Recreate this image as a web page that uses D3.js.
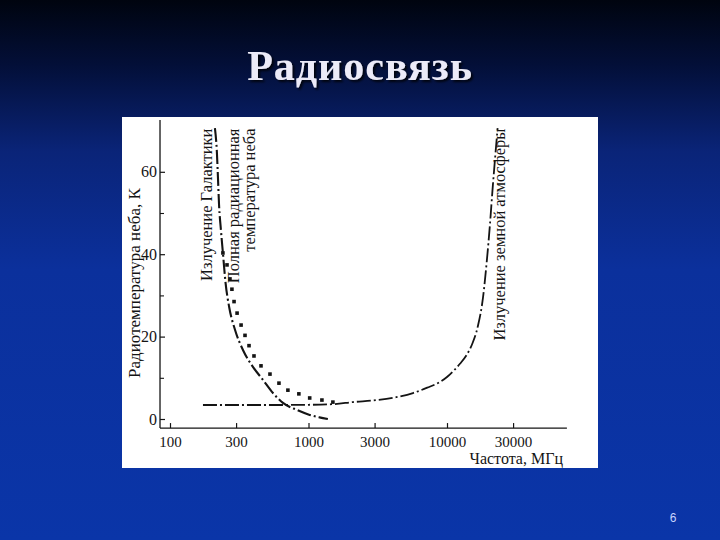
<!DOCTYPE html>
<html>
<head>
<meta charset="utf-8">
<script src="https://cdn.jsdelivr.net/npm/d3@7/dist/d3.min.js"></script>
<style>
  html, body { margin: 0; padding: 0; background: #000; }
  svg { display: block; }
</style>
</head>
<body>
<svg id="chart" width="720" height="540"></svg>
<script>
// ---- data ----
const freqTicks = [100, 300, 1000, 3000, 10000, 30000];
const tempTicks = [0, 20, 40, 60];
const tempMinorTicks = [10, 30, 50];

const galaxyFreq = [211, 218, 222, 226, 233, 241, 252, 268, 295, 337, 398, 469, 554, 654, 825, 1020, 1200, 1380];
const galaxyTemp = [70.6, 64.8, 58.5, 52, 46, 40.3, 33, 27, 21.6, 16.7, 12.6, 9.5, 6.3, 3.9, 2.2, 1.0, 0.4, 0.0];

const totalFreq = [241, 258, 271, 280, 290, 305, 326, 348, 372, 404, 454, 527, 612, 710, 852, 1020, 1250, 1500];
const totalTemp = [40.3, 37.4, 34, 31.5, 28.5, 25.7, 22.8, 20.3, 17.8, 15.3, 12.9, 10.9, 8.7, 7.0, 6.1, 5.1, 4.6, 4.1];

const atmFreq = [173, 300, 600, 1000, 1500, 2090, 3125, 4300, 5680, 7200, 8900, 10000, 11000, 12400, 13900, 15200, 16700, 18200, 19400, 20400, 21300, 22200, 23200];
const atmTemp = [3.4, 3.4, 3.4, 3.45, 3.6, 4.1, 4.6, 5.3, 6.3, 7.6, 9.0, 10.2, 11.5, 13.4, 15.6, 18.2, 22.5, 29.5, 38.5, 47, 55.5, 63, 70.6];

const titleText = "Радиосвязь";
const yTitle = "Радиотемпература неба, К";
const xTitle = "Частота, МГц";
const labelGalaxy = "Излучение Галактики";
const labelTotal = ["Полная радиационная", "температура неба"];
const labelAtm = "Излучение земной атмосферы";
const pageNum = "6";

// ---- drawing ----
const svg = d3.select("#chart");
const defs = svg.append("defs");
const grad = defs.append("linearGradient").attr("id", "bg").attr("x1", 0).attr("y1", 0).attr("x2", 0).attr("y2", 1);
[[0, "#00040f"], [0.12, "#030f38"], [0.28, "#0a2478"], [0.5, "#0b309c"], [1, "#0a35a8"]]
  .forEach(([o, c]) => grad.append("stop").attr("offset", o).attr("stop-color", c));
const sh = defs.append("filter").attr("id", "shadow").attr("x", "-10%").attr("y", "-10%").attr("width", "130%").attr("height", "140%");
sh.append("feDropShadow").attr("dx", 2).attr("dy", 2).attr("stdDeviation", 1).attr("flood-color", "#000").attr("flood-opacity", 0.8);

svg.append("rect").attr("width", 720).attr("height", 540).attr("fill", "url(#bg)");

// title
svg.append("text")
  .attr("x", 360).attr("y", 80)
  .attr("text-anchor", "middle")
  .attr("font-family", "Liberation Serif, serif")
  .attr("font-weight", "bold")
  .attr("font-size", 42)
  .attr("letter-spacing", 1)
  .attr("fill", "#ecebf8")
  .attr("filter", "url(#shadow)")
  .text(titleText);

// page number
svg.append("text")
  .attr("x", 673).attr("y", 522)
  .attr("text-anchor", "middle")
  .attr("font-family", "Liberation Sans, Arial, sans-serif")
  .attr("font-size", 12)
  .attr("fill", "#c8d4ff")
  .text(pageNum);

// white panel
svg.append("rect").attr("x", 122).attr("y", 117).attr("width", 476).attr("height", 351).attr("fill", "#ffffff");

// scales
const x = d3.scaleLog().domain([100, 30000]).range([170, 170 + 138.5 * Math.log10(300)]);
const y = d3.scaleLinear().domain([0, 60]).range([419, 419 - 60 * 4.12]);

const ink = "#141414";
const font = "Liberation Serif, Times New Roman, serif";

const xMin = 84.7, xMax = 73400, yMin = -2.2, yMax = 72.6;

// axis lines
svg.append("line").attr("x1", x(xMin)).attr("x2", x(xMin)).attr("y1", y(yMax)).attr("y2", y(yMin))
  .attr("stroke", ink).attr("stroke-width", 1.3);
svg.append("line").attr("x1", x(xMin)).attr("x2", x(xMax)).attr("y1", y(yMin)).attr("y2", y(yMin))
  .attr("stroke", ink).attr("stroke-width", 1.3);

// y axis
const yAxis = d3.axisLeft(y).tickValues(tempTicks).tickSizeInner(-5).tickSizeOuter(0).tickPadding(3).tickFormat(d3.format("d"));
const gy = svg.append("g").attr("transform", `translate(${x(xMin)},0)`).call(yAxis);
gy.select(".domain").remove();
gy.selectAll(".tick line").attr("stroke", ink).attr("stroke-width", 1.2);
gy.selectAll(".tick text").attr("font-family", font).attr("font-size", 16).attr("fill", ink);
const yMinor = d3.axisLeft(y).tickValues(tempMinorTicks).tickSizeInner(-4).tickSizeOuter(0).tickFormat("");
const gym = svg.append("g").attr("transform", `translate(${x(xMin)},0)`).call(yMinor);
gym.select(".domain").remove();
gym.selectAll(".tick line").attr("stroke", ink).attr("stroke-width", 1.1);

// x axis
const xAxis = d3.axisBottom(x).tickValues(freqTicks).tickSizeInner(-5).tickSizeOuter(0).tickPadding(8).tickFormat(d3.format("d"));
const gx = svg.append("g").attr("transform", `translate(0,${y(yMin)})`).call(xAxis);
gx.select(".domain").remove();
gx.selectAll(".tick line").attr("stroke", ink).attr("stroke-width", 1.2);
gx.selectAll(".tick text").attr("font-family", font).attr("font-size", 15).attr("fill", ink);

// axis titles
svg.append("text")
  .attr("transform", `translate(140,${y(33)}) rotate(-90)`)
  .attr("text-anchor", "middle")
  .attr("font-family", font).attr("font-size", 17).attr("fill", ink)
  .text(yTitle);
svg.append("text")
  .attr("x", 563).attr("y", 464)
  .attr("text-anchor", "end")
  .attr("font-family", font).attr("font-size", 16).attr("fill", ink)
  .text(xTitle);

// curves
const line = d3.line().x(d => x(d[0])).y(d => y(d[1])).curve(d3.curveMonotoneX);
const galaxy = galaxyFreq.map((f, i) => [f, galaxyTemp[i]]);
const atm = atmFreq.map((f, i) => [f, atmTemp[i]]);
const total = totalFreq.map((f, i) => [f, totalTemp[i]]);

svg.append("path").datum(galaxy).attr("d", line)
  .attr("fill", "none").attr("stroke", ink).attr("stroke-width", 2.1)
  .attr("stroke-dasharray", "14,3,2,3");
svg.append("path").datum(atm).attr("d", line)
  .attr("fill", "none").attr("stroke", ink).attr("stroke-width", 1.8)
  .attr("stroke-dasharray", "14,3,2,3");
svg.append("g").selectAll("rect").data(total).join("rect")
  .attr("x", d => x(d[0]) - 1.8).attr("y", d => y(d[1]) - 1.8)
  .attr("width", 3.6).attr("height", 3.6).attr("fill", ink);

// curve labels
function vlabel(txt, bx, topY, size) {
  svg.append("text")
    .attr("transform", `translate(${bx},${topY}) rotate(-90)`)
    .attr("text-anchor", "end")
    .attr("font-family", font).attr("font-size", size).attr("fill", ink)
    .text(txt);
}
const topY = y(70.5);
vlabel(labelGalaxy, 212, topY, 16.5);
vlabel(labelTotal[0], 239, topY, 16.5);
vlabel(labelTotal[1], 255, topY, 16.5);
vlabel(labelAtm, 505, topY, 16.5);
</script>
</body>
</html>
